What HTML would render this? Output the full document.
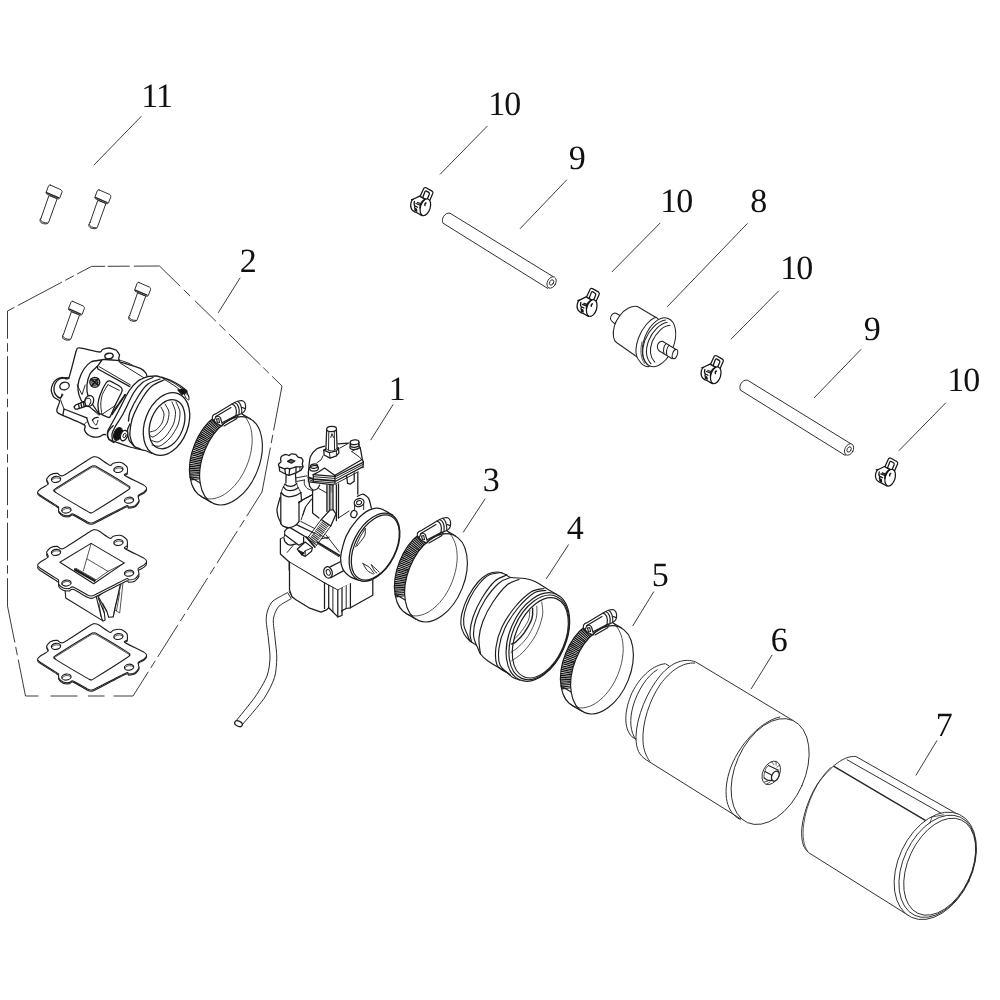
<!DOCTYPE html>
<html><head><meta charset="utf-8"><title>Carburetor exploded view</title>
<style>
html,body{margin:0;padding:0;background:#fff;}
body{width:1000px;height:1000px;overflow:hidden;}
svg{display:block}
svg .p *{vector-effect:non-scaling-stroke}
svg text{text-rendering:geometricPrecision;-webkit-font-smoothing:antialiased;font-family:"Liberation Serif",serif;font-size:34px;fill:#111;stroke:none}
.w{fill:#fff}
.n{fill:none}
.k{fill:#111}
.t{stroke-width:.75}
.h{stroke-width:1.4}
.b .t{stroke-width:.95}
.b .h{stroke-width:1.8}
</style></head><body>
<svg width="1000" height="1000" viewBox="0 0 1000 1000" fill="none" stroke="#262626" stroke-width=".95" stroke-linecap="round" stroke-linejoin="round">
<rect x="0" y="0" width="1000" height="1000" fill="#fff" stroke="none"/>
<!-- 00_labels.svg -->
<g id="labels" style="mix-blend-mode:multiply">
<text x="141.3" y="107.4" letter-spacing="-1">11</text>
<text x="239.7" y="272.4">2</text>
<text x="388.7" y="400.4">1</text>
<text x="482.7" y="491.4">3</text>
<text x="566.7" y="539.4">4</text>
<text x="651.7" y="586.4">5</text>
<text x="770.7" y="651.4">6</text>
<text x="935.7" y="736.4">7</text>
<text x="750.2" y="212.4">8</text>
<text x="568.7" y="169.4">9</text>
<text x="863.7" y="340.4">9</text>
<text x="488.3" y="115.4" letter-spacing="-1">10</text>
<text x="660.3" y="212.4" letter-spacing="-1">10</text>
<text x="780.3" y="279.4" letter-spacing="-1">10</text>
<text x="947.3" y="391.4" letter-spacing="-1">10</text>
</g>
<g id="leaders" stroke-width=".9">
<path d="M141,116.6L94,165"/>
<path d="M240,278L218.4,312.5"/>
<path d="M392.9,404.8L370.9,439.8"/>
<path d="M485,499L463.4,532"/>
<path d="M568.4,544.9L546.5,578.5"/>
<path d="M653.6,592L632.9,625.6"/>
<path d="M772,655.2L751.2,688.8"/>
<path d="M936.8,740.8L916,775.2"/>
<path d="M747.2,223.7L667.5,306.5"/>
<path d="M566.6,180L520.2,228.6"/>
<path d="M860.8,349.6L814.4,397.6"/>
<path d="M487.2,126.2L440.2,174.2"/>
<path d="M660,223.2L612,271.8"/>
<path d="M778.6,291L731.2,339"/>
<path d="M945.6,403L899.2,450.4"/>
</g>
<g id="phantom" stroke-linecap="butt" stroke-width=".9">
<path d="M7.5,311.0L91.5,266.4" stroke-dasharray="7.8 3.8 50.0 3.8 9.7 3.8 16.4"/>
<path d="M91.5,266.4L159.5,266.0" stroke-dasharray="13.6 2.6 22.0 4.2 25.6"/>
<path d="M159.5,266.0L282.0,386.0" stroke-dasharray="29.0 5.0 9.0 6.5 29.5 4.7 8.5 5.0 44.0 4.0 8.0 4.5 13.5"/>
<path d="M282.0,386.0L262.0,492.0" stroke-dasharray="45.2 4.5 8.5 4.5 45.2"/>
<path d="M262.0,492.0L133.0,696.0" stroke-dasharray="28.7 4.5 8.5 4.5 38.0 4.5 8.5 4.5 38.0 4.5 8.5 4.5 38.0 4.5 8.5 4.5 28.7"/>
<path d="M133.0,696.0L25.5,696.0" stroke-dasharray="19.5 9 16.5 10.5 27 12 13"/>
<path d="M25.5,696.0L7.5,606.0" stroke-dasharray="37.1 4.5 8.5 4.5 37.1"/>
<path d="M7.5,606.0L7.5,311.0" stroke-dasharray="27.8 4.5 8.5 4.5 38.0 4.5 8.5 4.5 38.0 4.5 8.5 4.5 38.0 4.5 8.5 4.5 38.0 4.5 8.5 4.5 27.8"/>
</g>
<!-- 10_bolts.svg -->
<g class="p" transform="translate(20.0,160.0) scale(.16)"><path class="w" d="M132,362L181,222L232,242L178,392C172,402 150,402 132,392C122,384 124,372 132,362Z"/>
<path d="M126,372C130,384 150,396 172,394"/>
<path class="w" d="M190,157L256,186C262,190 264,196 262,202L248,238C246,243 240,244 234,242L170,214C164,211 162,206 164,200L178,163C180,157 185,155 190,157Z"/>
<path d="M166,204L240,236" class="h"/>
</g>
<g class="p" transform="translate(68.8,164.8) scale(.16)"><path class="w" d="M132,362L181,222L232,242L178,392C172,402 150,402 132,392C122,384 124,372 132,362Z"/>
<path d="M126,372C130,384 150,396 172,394"/>
<path class="w" d="M190,157L256,186C262,190 264,196 262,202L248,238C246,243 240,244 234,242L170,214C164,211 162,206 164,200L178,163C180,157 185,155 190,157Z"/>
<path d="M166,204L240,236" class="h"/>
</g>
<g class="p" transform="translate(42.4,276.3) scale(.16)"><path class="w" d="M132,362L181,222L232,242L178,392C172,402 150,402 132,392C122,384 124,372 132,362Z"/>
<path d="M126,372C130,384 150,396 172,394"/>
<path class="w" d="M190,157L256,186C262,190 264,196 262,202L248,238C246,243 240,244 234,242L170,214C164,211 162,206 164,200L178,163C180,157 185,155 190,157Z"/>
<path d="M166,204L240,236" class="h"/>
</g>
<g class="p" transform="translate(108.6,257.4) scale(.16)"><path class="w" d="M132,362L181,222L232,242L178,392C172,402 150,402 132,392C122,384 124,372 132,362Z"/>
<path d="M126,372C130,384 150,396 172,394"/>
<path class="w" d="M190,157L256,186C262,190 264,196 262,202L248,238C246,243 240,244 234,242L170,214C164,211 162,206 164,200L178,163C180,157 185,155 190,157Z"/>
<path d="M166,204L240,236" class="h"/>
</g>
<!-- 20_tubes.svg -->
<g class="p" transform="translate(430.0,190.0) scale(.16)"><path class="w" d="M80,205C68,182 92,138 125,145L772,543L737,613Z"/>
<ellipse class="w" cx="760" cy="578" rx="26" ry="38" transform="rotate(28 760 578)"/>
<ellipse cx="760" cy="578" rx="12" ry="18" transform="rotate(28 760 578)"/>
</g>
<g class="p" transform="translate(727.5,357.0) scale(.16)"><path class="w" d="M80,205C68,182 92,138 125,145L772,543L737,613Z"/>
<ellipse class="w" cx="760" cy="578" rx="26" ry="38" transform="rotate(28 760 578)"/>
<ellipse cx="760" cy="578" rx="12" ry="18" transform="rotate(28 760 578)"/>
</g>
<!-- 21_clips.svg -->
<g class="p" stroke="#151515" stroke-width="1.25" transform="translate(400.0,180.0) scale(.05)"><path class="w" d="M400,330L470,178C480,155 500,145 522,156L640,222C660,235 664,250 655,272L590,420Z"/>
<path d="M455,350L498,236C504,220 516,214 530,222L574,248C590,258 592,270 586,286L545,385"/>
<path class="w" d="M392,322L262,386C222,410 200,500 222,560C240,610 290,640 330,650L440,712L560,420Z"/>
<path d="M230,390L262,386M290,430C275,470 280,500 300,520L350,545M320,470L400,500M350,450L410,470M300,520L290,560"/>
<path class="k" d="M300,570L330,580L335,625L300,610Z"/>
<ellipse class="w" cx="507" cy="545" rx="98" ry="172" transform="rotate(17 507 545)"/>
<path d="M398,560C400,480 440,410 500,385"/>
<path d="M520,460C500,470 490,490 500,510" class="h"/>
</g>
<g class="p" stroke="#151515" stroke-width="1.25" transform="translate(566.4,280.8) scale(.05)"><path class="w" d="M400,330L470,178C480,155 500,145 522,156L640,222C660,235 664,250 655,272L590,420Z"/>
<path d="M455,350L498,236C504,220 516,214 530,222L574,248C590,258 592,270 586,286L545,385"/>
<path class="w" d="M392,322L262,386C222,410 200,500 222,560C240,610 290,640 330,650L440,712L560,420Z"/>
<path d="M230,390L262,386M290,430C275,470 280,500 300,520L350,545M320,470L400,500M350,450L410,470M300,520L290,560"/>
<path class="k" d="M300,570L330,580L335,625L300,610Z"/>
<ellipse class="w" cx="507" cy="545" rx="98" ry="172" transform="rotate(17 507 545)"/>
<path d="M398,560C400,480 440,410 500,385"/>
<path d="M520,460C500,470 490,490 500,510" class="h"/>
</g>
<g class="p" stroke="#151515" stroke-width="1.25" transform="translate(690.4,348.0) scale(.05)"><path class="w" d="M400,330L470,178C480,155 500,145 522,156L640,222C660,235 664,250 655,272L590,420Z"/>
<path d="M455,350L498,236C504,220 516,214 530,222L574,248C590,258 592,270 586,286L545,385"/>
<path class="w" d="M392,322L262,386C222,410 200,500 222,560C240,610 290,640 330,650L440,712L560,420Z"/>
<path d="M230,390L262,386M290,430C275,470 280,500 300,520L350,545M320,470L400,500M350,450L410,470M300,520L290,560"/>
<path class="k" d="M300,570L330,580L335,625L300,610Z"/>
<ellipse class="w" cx="507" cy="545" rx="98" ry="172" transform="rotate(17 507 545)"/>
<path d="M398,560C400,480 440,410 500,385"/>
<path d="M520,460C500,470 490,490 500,510" class="h"/>
</g>
<g class="p" stroke="#151515" stroke-width="1.25" transform="translate(864.8,450.4) scale(.05)"><path class="w" d="M400,330L470,178C480,155 500,145 522,156L640,222C660,235 664,250 655,272L590,420Z"/>
<path d="M455,350L498,236C504,220 516,214 530,222L574,248C590,258 592,270 586,286L545,385"/>
<path class="w" d="M392,322L262,386C222,410 200,500 222,560C240,610 290,640 330,650L440,712L560,420Z"/>
<path d="M230,390L262,386M290,430C275,470 280,500 300,520L350,545M320,470L400,500M350,450L410,470M300,520L290,560"/>
<path class="k" d="M300,570L330,580L335,625L300,610Z"/>
<ellipse class="w" cx="507" cy="545" rx="98" ry="172" transform="rotate(17 507 545)"/>
<path d="M398,560C400,480 440,410 500,385"/>
<path d="M520,460C500,470 490,490 500,510" class="h"/>
</g>
<!-- 22_filter.svg -->
<g class="p" stroke-width="1.05" transform="translate(600,290) scale(.1)">
<path class="w" d="M200,255L160,233C130,225 100,255 105,290C108,310 125,320 150,338Z"/>
<path class="w" d="M560,275L375,165C320,155 250,185 200,255C150,320 125,400 135,470C140,500 150,515 165,525L400,690Z"/>
<path class="w" d="M560,272C500,290 420,380 385,480C350,580 350,660 395,710C420,750 450,765 482,768L600,700L700,400Z"/>
<ellipse class="w" cx="590" cy="522" rx="150" ry="255" transform="rotate(21 590 522)"/>
<path d="M655,300C575,312 490,400 450,500C415,600 420,690 478,748"/>
<path d="M672,322C600,335 525,410 487,505C452,600 458,680 510,738"/>
<path d="M700,352C630,355 560,430 522,515C492,600 498,670 548,722"/>
<path class="t" d="M420,520C400,600 405,680 445,735"/>
<path class="w" d="M625,512L752,590L722,688L590,608C575,590 570,560 580,540C590,520 605,510 625,512Z"/>
<path d="M660,535C640,560 630,600 640,635"/>
<path d="M690,552C668,580 660,615 668,652"/>
<ellipse class="w" cx="750" cy="640" rx="24" ry="48" transform="rotate(20 750 640)"/>
</g>
<!-- 30_cyl6.svg -->
<g class="p" transform="translate(610,640) scale(.22)">
<path class="w" d="M250,108C200,112 140,160 100,240C65,320 60,400 100,440L180,490L330,160Z"/>
<path d="M215,135C170,160 125,230 105,300C88,360 90,420 120,455"/>
<path class="w" d="M832,366L390,100C340,80 280,100 230,160C170,230 120,350 118,440C118,500 135,525 165,545L592,812Z"/>
<path d="M385,105C330,100 275,140 230,200C180,270 145,380 150,460C152,500 165,530 180,550"/>
<ellipse class="w" cx="728" cy="598" rx="158" ry="254" transform="rotate(24 728 598)"/>
<path d="M772,350C690,365 578,480 542,600C512,700 528,785 592,816"/>

</g>
<g class="p" transform="translate(750,750) scale(.05)">
<ellipse class="w" cx="425" cy="458" rx="165" ry="250" transform="rotate(27 425 458)"/>
<path d="M370,310L560,400M300,430L430,500L440,612M282,560L345,602L440,612" stroke-width="1.2"/>
<path class="t" d="M370,310C330,340 300,390 300,430C280,470 275,520 283,560M430,232L478,292M520,226L522,300M590,300L545,345M288,640L360,620M330,686L400,640M560,400L585,470"/>
<ellipse class="w" cx="505" cy="522" rx="68" ry="105" transform="rotate(25 505 522)" stroke-width="1.3"/>
</g>
<!-- 31_cyl7.svg -->
<g class="p" transform="translate(780,740) scale(.22)">
<path class="w" d="M812,340L345,75C290,70 230,120 170,200C120,280 90,390 100,450C105,485 115,500 135,515L585,798Z"/>
<path class="t" d="M230,125C170,180 120,290 108,380C100,440 108,480 125,505"/>
<path d="M305,90L745,340"/>
<path class="h" d="M245,120L682,378"/>
<ellipse class="w" cx="706" cy="572" rx="168" ry="258" transform="rotate(25 706 572)"/>
<ellipse cx="716" cy="574" rx="156" ry="246" transform="rotate(25 716 574)"/>
<ellipse cx="726" cy="576" rx="144" ry="234" transform="rotate(25 726 576)"/>
<path class="t" d="M682,378L690,350L745,340"/>
</g>
<!-- 40_clamps.svg -->
<g stroke-width="1.15" stroke="#1e1e1e" transform="translate(0.0,0.0)">
<ellipse class="w" cx="425.8" cy="571.8" rx="28.2" ry="46.2" transform="rotate(22 425.8 571.8)"/>
<path class="w" stroke="none" d="M445.4,530.1L455.6,536.1L416.4,619.5L406.2,613.5 Z"/>
<path d="M445.4,530.1L455.6,536.1M406.2,613.5L416.4,619.5"/>
<clipPath id="c0"><ellipse cx="425.8" cy="571.8" rx="28.2" ry="46.2" transform="rotate(22 425.8 571.8)"/></clipPath>
<g clip-path="url(#c0)"><path d="M400.1,597.0L399.8,594.8L399.6,592.6L399.5,590.4L399.6,588.1L399.7,585.8L399.9,583.4L400.2,581.0L400.6,578.6L401.1,576.2L401.6,573.8L402.3,571.3L403.0,568.9L403.9,566.5L404.8,564.2L405.8,561.8L406.8,559.5L408.0,557.3L409.2,555.1L410.5,552.9L411.8,550.9L413.2,548.9L414.7,546.9L416.2,545.1L417.7,543.4L419.3,541.7L420.9,540.2L422.5,538.7L424.2,537.4L425.9,536.1L427.6,535.0L429.3,534.0L431.1,533.2L432.8,532.4L434.5,531.8L436.2,531.3L437.9,531.0L439.6,530.8L441.2,530.7L442.8,530.7L444.4,530.9" stroke="#111" stroke-width="13" stroke-dasharray="1.25 0.55" stroke-linecap="butt"/></g>
<ellipse class="w" cx="436.0" cy="577.8" rx="28.2" ry="46.2" transform="rotate(22 436.0 577.8)"/>
<path class="t" d="M448.2,532.1L450.0,533.9L451.6,536.0L453.0,538.3L454.2,540.9L455.3,543.6L456.1,546.7L456.7,549.8L457.0,553.2L457.2,556.7L457.1,560.3L456.7,564.0L456.2,567.7L455.4,571.5L454.4,575.2L453.2,579.0L451.8,582.7L450.2,586.3L448.5,589.8L446.5,593.2L444.5,596.4L442.2,599.4L439.9,602.3L437.4,604.9L434.9,607.2L432.3,609.4L429.7,611.2L427.0,612.8L424.3,614.0L421.7,614.9L419.0,615.6L416.4,615.9L413.9,615.9L411.5,615.5L409.1,614.9L406.9,613.9L404.9,612.6L402.9,611.1L401.2,609.2L399.6,607.1L398.2,604.7"/>
<path d="M395.0,594.0L405.2,600.0"/>
<g class="p" transform="translate(410,510) scale(.05)">
<path class="w" d="M150,520C135,470 165,425 210,418L540,222C600,180 680,150 740,150C790,165 815,220 812,290C810,350 770,400 700,425L640,445L380,600L340,660L230,610Z"/>
<path d="M218,470L520,290M350,590L640,440M380,660L640,510"/>
<path d="M215,480C250,450 290,460 310,500L350,640"/>
<path d="M180,560L215,480M230,520L275,510L290,590L250,600Z"/>
<path d="M540,222C600,230 650,320 620,450M600,195C660,215 700,310 680,425M650,165C710,190 745,300 735,410"/>
<path d="M745,290L805,312"/>
</g>
</g>
<g stroke-width="1.15" stroke="#1e1e1e" transform="translate(166.0,92.0)">
<ellipse class="w" cx="425.8" cy="571.8" rx="28.2" ry="46.2" transform="rotate(22 425.8 571.8)"/>
<path class="w" stroke="none" d="M445.4,530.1L455.6,536.1L416.4,619.5L406.2,613.5 Z"/>
<path d="M445.4,530.1L455.6,536.1M406.2,613.5L416.4,619.5"/>
<clipPath id="c2358"><ellipse cx="425.8" cy="571.8" rx="28.2" ry="46.2" transform="rotate(22 425.8 571.8)"/></clipPath>
<g clip-path="url(#c2358)"><path d="M400.1,597.0L399.8,594.8L399.6,592.6L399.5,590.4L399.6,588.1L399.7,585.8L399.9,583.4L400.2,581.0L400.6,578.6L401.1,576.2L401.6,573.8L402.3,571.3L403.0,568.9L403.9,566.5L404.8,564.2L405.8,561.8L406.8,559.5L408.0,557.3L409.2,555.1L410.5,552.9L411.8,550.9L413.2,548.9L414.7,546.9L416.2,545.1L417.7,543.4L419.3,541.7L420.9,540.2L422.5,538.7L424.2,537.4L425.9,536.1L427.6,535.0L429.3,534.0L431.1,533.2L432.8,532.4L434.5,531.8L436.2,531.3L437.9,531.0L439.6,530.8L441.2,530.7L442.8,530.7L444.4,530.9" stroke="#111" stroke-width="13" stroke-dasharray="1.25 0.55" stroke-linecap="butt"/></g>
<ellipse class="w" cx="436.0" cy="577.8" rx="28.2" ry="46.2" transform="rotate(22 436.0 577.8)"/>
<path class="t" d="M448.2,532.1L450.0,533.9L451.6,536.0L453.0,538.3L454.2,540.9L455.3,543.6L456.1,546.7L456.7,549.8L457.0,553.2L457.2,556.7L457.1,560.3L456.7,564.0L456.2,567.7L455.4,571.5L454.4,575.2L453.2,579.0L451.8,582.7L450.2,586.3L448.5,589.8L446.5,593.2L444.5,596.4L442.2,599.4L439.9,602.3L437.4,604.9L434.9,607.2L432.3,609.4L429.7,611.2L427.0,612.8L424.3,614.0L421.7,614.9L419.0,615.6L416.4,615.9L413.9,615.9L411.5,615.5L409.1,614.9L406.9,613.9L404.9,612.6L402.9,611.1L401.2,609.2L399.6,607.1L398.2,604.7"/>
<path d="M395.0,594.0L405.2,600.0"/>
<g class="p" transform="translate(410,510) scale(.05)">
<path class="w" d="M150,520C135,470 165,425 210,418L540,222C600,180 680,150 740,150C790,165 815,220 812,290C810,350 770,400 700,425L640,445L380,600L340,660L230,610Z"/>
<path d="M218,470L520,290M350,590L640,440M380,660L640,510"/>
<path d="M215,480C250,450 290,460 310,500L350,640"/>
<path d="M180,560L215,480M230,520L275,510L290,590L250,600Z"/>
<path d="M540,222C600,230 650,320 620,450M600,195C660,215 700,310 680,425M650,165C710,190 745,300 735,410"/>
<path d="M745,290L805,312"/>
</g>
</g>
<g stroke-width="1.15" stroke="#1e1e1e" transform="translate(-205.0,-117.0)">
<ellipse class="w" cx="425.8" cy="571.8" rx="28.2" ry="46.2" transform="rotate(22 425.8 571.8)"/>
<path class="w" stroke="none" d="M445.4,530.1L455.6,536.1L416.4,619.5L406.2,613.5 Z"/>
<path d="M445.4,530.1L455.6,536.1M406.2,613.5L416.4,619.5"/>
<clipPath id="c2956"><ellipse cx="425.8" cy="571.8" rx="28.2" ry="46.2" transform="rotate(22 425.8 571.8)"/></clipPath>
<g clip-path="url(#c2956)"><path d="M400.1,597.0L399.8,594.8L399.6,592.6L399.5,590.4L399.6,588.1L399.7,585.8L399.9,583.4L400.2,581.0L400.6,578.6L401.1,576.2L401.6,573.8L402.3,571.3L403.0,568.9L403.9,566.5L404.8,564.2L405.8,561.8L406.8,559.5L408.0,557.3L409.2,555.1L410.5,552.9L411.8,550.9L413.2,548.9L414.7,546.9L416.2,545.1L417.7,543.4L419.3,541.7L420.9,540.2L422.5,538.7L424.2,537.4L425.9,536.1L427.6,535.0L429.3,534.0L431.1,533.2L432.8,532.4L434.5,531.8L436.2,531.3L437.9,531.0L439.6,530.8L441.2,530.7L442.8,530.7L444.4,530.9" stroke="#111" stroke-width="13" stroke-dasharray="1.25 0.55" stroke-linecap="butt"/></g>
<ellipse class="w" cx="436.0" cy="577.8" rx="28.2" ry="46.2" transform="rotate(22 436.0 577.8)"/>
<path class="t" d="M448.2,532.1L450.0,533.9L451.6,536.0L453.0,538.3L454.2,540.9L455.3,543.6L456.1,546.7L456.7,549.8L457.0,553.2L457.2,556.7L457.1,560.3L456.7,564.0L456.2,567.7L455.4,571.5L454.4,575.2L453.2,579.0L451.8,582.7L450.2,586.3L448.5,589.8L446.5,593.2L444.5,596.4L442.2,599.4L439.9,602.3L437.4,604.9L434.9,607.2L432.3,609.4L429.7,611.2L427.0,612.8L424.3,614.0L421.7,614.9L419.0,615.6L416.4,615.9L413.9,615.9L411.5,615.5L409.1,614.9L406.9,613.9L404.9,612.6L402.9,611.1L401.2,609.2L399.6,607.1L398.2,604.7"/>
<path d="M395.0,594.0L405.2,600.0"/>
<g class="p" transform="translate(410,510) scale(.05)">
<path class="w" d="M150,520C135,470 165,425 210,418L540,222C600,180 680,150 740,150C790,165 815,220 812,290C810,350 770,400 700,425L640,445L380,600L340,660L230,610Z"/>
<path d="M218,470L520,290M350,590L640,440M380,660L640,510"/>
<path d="M215,480C250,450 290,460 310,500L350,640"/>
<path d="M180,560L215,480M230,520L275,510L290,590L250,600Z"/>
<path d="M540,222C600,230 650,320 620,450M600,195C660,215 700,310 680,425M650,165C710,190 745,300 735,410"/>
<path d="M745,290L805,312"/>
</g>
</g>
<!-- 41_boot.svg -->
<g id="boot" stroke-width="1.15" stroke="#1e1e1e">
<path class="w" stroke="none" d="M506.0,574.5C504.7,574.1 501.0,572.1 498.0,572.0C495.0,571.9 491.3,572.3 488.0,574.0C484.7,575.7 481.3,578.2 478.0,582.0C474.7,585.8 470.7,591.8 468.0,597.0C465.3,602.2 463.2,608.3 462.0,613.0C460.8,617.7 460.7,621.5 461.0,625.0C461.3,628.5 462.5,631.3 464.0,634.0C465.5,636.7 467.9,639.1 470.0,641.0C472.1,642.9 474.8,643.3 476.5,645.5C478.2,647.7 478.6,651.4 480.5,654.0C482.4,656.6 483.8,658.0 488.0,661.0C492.2,664.0 501.8,669.2 506.0,672.0C510.2,674.8 510.7,676.2 513.0,677.6C515.3,679.0 518.8,679.7 520.0,680.1L556.4,594.3L548.0,589.4L528.4,579.6L525.0,578.5L511.0,577.5Z"/>
<path d="M506.0,574.5C504.7,574.1 501.0,572.1 498.0,572.0C495.0,571.9 491.3,572.3 488.0,574.0C484.7,575.7 481.3,578.2 478.0,582.0C474.7,585.8 470.7,591.8 468.0,597.0C465.3,602.2 463.2,608.3 462.0,613.0C460.8,617.7 460.7,621.5 461.0,625.0C461.3,628.5 462.5,631.3 464.0,634.0C465.5,636.7 467.9,639.1 470.0,641.0C472.1,642.9 474.8,643.3 476.5,645.5C478.2,647.7 478.6,651.4 480.5,654.0C482.4,656.6 483.8,658.0 488.0,661.0C492.2,664.0 501.8,669.2 506.0,672.0C510.2,674.8 510.7,676.2 513.0,677.6C515.3,679.0 518.8,679.7 520.0,680.1"/>
<path d="M506.0,574.5C506.8,575.0 507.8,576.8 511.0,577.5C514.2,578.2 521.0,577.8 525.0,578.5C529.0,579.2 531.2,579.7 535.0,581.5C538.8,583.3 544.4,587.3 548.0,589.4C551.6,591.5 555.0,593.5 556.4,594.3"/>
<path d="M502.0,572.5C499.8,572.9 492.8,573.1 489.0,575.0C485.2,576.9 482.2,580.2 479.0,584.0C475.8,587.8 472.4,593.2 470.0,598.0C467.6,602.8 465.5,608.5 464.5,613.0C463.5,617.5 463.3,621.3 463.8,625.0C464.3,628.7 466.5,632.3 467.5,635.0C468.5,637.7 469.6,640.0 470.0,641.0"/>
<path d="M507.0,575.0C505.0,576.0 499.2,577.2 495.0,581.0C490.8,584.8 485.7,592.0 482.0,598.0C478.3,604.0 475.0,611.2 473.0,617.0C471.0,622.8 470.2,628.9 470.0,633.0C469.8,637.1 471.2,640.1 471.5,641.5"/>
<path d="M510.5,577.5C508.6,578.4 503.2,579.2 499.0,583.0C494.8,586.8 488.8,594.0 485.0,600.0C481.2,606.0 477.9,613.2 476.0,619.0C474.1,624.8 473.4,630.6 473.5,635.0C473.6,639.4 476.0,643.8 476.5,645.5"/>
<path d="M519.0,579.5C517.0,580.4 511.3,581.2 507.0,585.0C502.7,588.8 497.0,596.0 493.0,602.0C489.0,608.0 485.3,615.0 483.0,621.0C480.7,627.0 479.4,632.5 479.0,638.0C478.6,643.5 480.2,651.3 480.5,654.0"/>
<path d="M544.0,588.5C541.8,589.1 535.8,588.9 531.0,592.0C526.2,595.1 519.8,601.2 515.0,607.0C510.2,612.8 505.2,620.3 502.0,627.0C498.8,633.7 496.8,640.7 496.0,647.0C495.2,653.3 495.3,660.8 497.0,665.0C498.7,669.2 504.5,670.8 506.0,672.0"/>
<path d="M546.0,590.5C544.0,590.9 538.7,590.1 534.0,593.0C529.3,595.9 522.8,602.2 518.0,608.0C513.2,613.8 508.2,621.3 505.0,628.0C501.8,634.7 499.8,641.8 499.0,648.0C498.2,654.2 498.1,660.5 500.0,665.0C501.9,669.5 508.5,673.2 510.2,674.8"/>
<ellipse class="w" cx="537.9" cy="637.0" rx="28.3" ry="46.5" transform="rotate(23 537.9 637.0)"/>
<ellipse cx="539.0" cy="637.4" rx="26.6" ry="44.5" transform="rotate(23 539.0 637.4)"/>
<ellipse cx="540.3" cy="637.8" rx="24.6" ry="42.3" transform="rotate(23 540.3 637.8)"/>
<path class="t" d="M541.7,602.0C541.8,604.3 543.5,610.4 542.4,616.0C541.3,621.6 538.7,629.5 535.4,635.6C532.1,641.7 526.8,648.2 522.8,652.4C518.8,656.6 513.5,659.4 511.6,660.8"/>
<path class="t" d="M536.8,606.2C536.7,608.3 537.5,613.9 536.1,618.8C534.7,623.7 531.3,630.9 528.4,635.6C525.5,640.3 521.5,644.0 518.6,646.8C515.7,649.6 512.2,651.5 510.9,652.4"/>
<path class="h" d="M532.6,608.3C532.5,610.0 533.3,614.7 531.9,618.8C530.5,622.9 526.9,628.9 524.2,632.8C521.5,636.6 517.9,640.0 515.8,641.9C513.7,643.8 512.3,643.6 511.6,644.0"/>
<path class="t" d="M529.8,610.4C529.6,612.0 529.8,616.7 528.4,620.2C527.0,623.7 523.8,628.1 521.4,631.4C519.0,634.7 515.0,638.4 513.7,639.8"/>
</g>
<!-- 50_gaskets.svg -->
<g class="p" stroke-width="1.1" stroke="#1e1e1e" transform="translate(30.0,450.0) scale(.13)">
<path class="w" d="M500.0,61.0C507.2,61.0 516.6,63.3 530.0,71.0C543.4,78.7 602.2,122.3 615.0,127.0C627.8,131.7 630.1,113.6 640.0,111.0C649.9,108.4 687.8,102.0 700.0,105.0C712.2,108.0 739.4,127.8 745.0,137.0C750.6,146.2 749.8,176.1 748.0,184.0C746.2,191.9 714.8,193.7 730.0,205.0C745.2,216.3 858.5,269.3 878.0,281.0C897.5,292.7 897.0,299.2 897.0,305.0C897.0,310.8 885.6,324.7 878.0,331.0C870.4,337.3 836.7,350.8 832.0,359.0C827.3,367.2 841.1,391.7 838.0,401.0C834.9,410.3 814.3,433.6 805.0,439.0C795.7,444.4 766.2,446.8 758.0,447.0C749.8,447.2 764.5,427.9 735.0,441.0C705.5,454.1 535.9,543.8 505.0,559.0C474.1,574.2 477.8,570.8 470.0,571.0C462.2,571.2 454.1,569.2 438.0,561.0C421.9,552.8 348.1,506.5 332.0,501.0C315.9,495.5 309.0,513.1 300.0,514.0C291.0,514.9 264.1,512.9 255.0,509.0C245.9,505.1 226.1,488.0 222.0,481.0C217.9,474.0 222.0,454.1 220.0,449.0C218.0,443.9 221.6,447.7 205.0,437.0C188.4,426.3 95.2,369.0 78.0,357.0C60.9,345.0 58.0,339.4 58.0,334.0C58.0,328.6 68.4,318.4 78.0,311.0C87.6,303.6 134.2,280.0 140.0,271.0C145.8,262.0 125.9,242.4 128.0,234.0C130.1,225.6 148.4,204.2 158.0,199.0C167.6,193.8 198.3,188.3 210.0,189.0C221.7,189.7 227.9,218.8 258.0,205.0C288.1,191.2 439.8,87.8 468.0,71.0C496.2,54.2 492.8,61.0 500.0,61.0Z"/>
<path class="w" d="M500.0,52.0C507.2,52.0 516.6,54.3 530.0,62.0C543.4,69.7 602.2,113.3 615.0,118.0C627.8,122.7 630.1,104.6 640.0,102.0C649.9,99.4 687.8,93.0 700.0,96.0C712.2,99.0 739.4,118.8 745.0,128.0C750.6,137.2 749.8,167.1 748.0,175.0C746.2,182.9 714.8,184.7 730.0,196.0C745.2,207.3 858.5,260.3 878.0,272.0C897.5,283.7 897.0,290.2 897.0,296.0C897.0,301.8 885.6,315.7 878.0,322.0C870.4,328.3 836.7,341.8 832.0,350.0C827.3,358.2 841.1,382.7 838.0,392.0C834.9,401.3 814.3,424.6 805.0,430.0C795.7,435.4 766.2,437.8 758.0,438.0C749.8,438.2 764.5,418.9 735.0,432.0C705.5,445.1 535.9,534.8 505.0,550.0C474.1,565.2 477.8,561.8 470.0,562.0C462.2,562.2 454.1,560.2 438.0,552.0C421.9,543.8 348.1,497.5 332.0,492.0C315.9,486.5 309.0,504.1 300.0,505.0C291.0,505.9 264.1,503.9 255.0,500.0C245.9,496.1 226.1,479.0 222.0,472.0C217.9,465.0 222.0,445.1 220.0,440.0C218.0,434.9 221.6,438.7 205.0,428.0C188.4,417.3 95.2,360.0 78.0,348.0C60.9,336.0 58.0,330.4 58.0,325.0C58.0,319.6 68.4,309.4 78.0,302.0C87.6,294.6 134.2,271.0 140.0,262.0C145.8,253.0 125.9,233.4 128.0,225.0C130.1,216.6 148.4,195.2 158.0,190.0C167.6,184.8 198.3,179.3 210.0,180.0C221.7,180.7 227.9,209.8 258.0,196.0C288.1,182.2 439.8,78.8 468.0,62.0C496.2,45.2 492.8,52.0 500.0,52.0Z"/>
<path class="w" d="M490.0,124.0C496.8,124.0 489.4,114.7 520.0,132.0C550.6,149.3 723.5,253.3 752.0,272.0C780.5,290.7 764.5,287.3 764.0,292.0C763.5,296.7 779.7,290.8 748.0,312.0C716.3,333.2 524.7,454.2 492.0,474.0C459.3,493.8 473.4,482.0 468.0,482.0C462.6,482.0 477.3,492.0 446.0,474.0C414.7,456.0 230.1,347.1 200.0,328.0C169.9,308.9 187.5,314.2 188.0,310.0C188.5,305.8 172.0,312.8 204.0,292.0C236.0,271.2 428.6,151.6 462.0,132.0C495.4,112.4 483.2,124.0 490.0,124.0Z"/>
<path class="t" d="M200.0,328.0C199.1,326.6 191.5,319.0 192.0,316.0C192.5,313.0 172.5,322.3 204.0,302.0C235.5,281.7 428.6,161.6 462.0,142.0C495.4,122.4 483.2,134.0 490.0,134.0C496.8,134.0 489.4,124.7 520.0,142.0C550.6,159.3 723.8,264.0 752.0,282.0C780.2,300.0 760.8,294.4 762.0,296.0"/>
<ellipse class="w" cx="200" cy="226" rx="36" ry="23" transform="rotate(-8 200 226)"/>
<path class="t" d="M167.0,232.0C170.8,229.3 181.2,218.7 190.0,216.0C198.8,213.3 212.5,214.0 220.0,216.0C227.5,218.0 232.5,226.0 235.0,228.0"/>
<ellipse class="w" cx="680" cy="150" rx="36" ry="23" transform="rotate(-8 680 150)"/>
<path class="t" d="M647.0,156.0C650.8,153.3 661.2,142.7 670.0,140.0C678.8,137.3 692.5,138.0 700.0,140.0C707.5,142.0 712.5,150.0 715.0,152.0"/>
<ellipse class="w" cx="762" cy="386" rx="36" ry="23" transform="rotate(-8 762 386)"/>
<path class="t" d="M729.0,392.0C732.8,389.3 743.2,378.7 752.0,376.0C760.8,373.3 774.5,374.0 782.0,376.0C789.5,378.0 794.5,386.0 797.0,388.0"/>
<ellipse class="w" cx="280" cy="462" rx="36" ry="23" transform="rotate(-8 280 462)"/>
<path class="t" d="M247.0,468.0C250.8,465.3 261.2,454.7 270.0,452.0C278.8,449.3 292.5,450.0 300.0,452.0C307.5,454.0 312.5,462.0 315.0,464.0"/>
</g>
<g class="p" stroke-width="1.1" stroke="#1e1e1e" transform="translate(30.0,617.0) scale(.13)">
<path class="w" d="M500.0,61.0C507.2,61.0 516.6,63.3 530.0,71.0C543.4,78.7 602.2,122.3 615.0,127.0C627.8,131.7 630.1,113.6 640.0,111.0C649.9,108.4 687.8,102.0 700.0,105.0C712.2,108.0 739.4,127.8 745.0,137.0C750.6,146.2 749.8,176.1 748.0,184.0C746.2,191.9 714.8,193.7 730.0,205.0C745.2,216.3 858.5,269.3 878.0,281.0C897.5,292.7 897.0,299.2 897.0,305.0C897.0,310.8 885.6,324.7 878.0,331.0C870.4,337.3 836.7,350.8 832.0,359.0C827.3,367.2 841.1,391.7 838.0,401.0C834.9,410.3 814.3,433.6 805.0,439.0C795.7,444.4 766.2,446.8 758.0,447.0C749.8,447.2 764.5,427.9 735.0,441.0C705.5,454.1 535.9,543.8 505.0,559.0C474.1,574.2 477.8,570.8 470.0,571.0C462.2,571.2 454.1,569.2 438.0,561.0C421.9,552.8 348.1,506.5 332.0,501.0C315.9,495.5 309.0,513.1 300.0,514.0C291.0,514.9 264.1,512.9 255.0,509.0C245.9,505.1 226.1,488.0 222.0,481.0C217.9,474.0 222.0,454.1 220.0,449.0C218.0,443.9 221.6,447.7 205.0,437.0C188.4,426.3 95.2,369.0 78.0,357.0C60.9,345.0 58.0,339.4 58.0,334.0C58.0,328.6 68.4,318.4 78.0,311.0C87.6,303.6 134.2,280.0 140.0,271.0C145.8,262.0 125.9,242.4 128.0,234.0C130.1,225.6 148.4,204.2 158.0,199.0C167.6,193.8 198.3,188.3 210.0,189.0C221.7,189.7 227.9,218.8 258.0,205.0C288.1,191.2 439.8,87.8 468.0,71.0C496.2,54.2 492.8,61.0 500.0,61.0Z"/>
<path class="w" d="M500.0,52.0C507.2,52.0 516.6,54.3 530.0,62.0C543.4,69.7 602.2,113.3 615.0,118.0C627.8,122.7 630.1,104.6 640.0,102.0C649.9,99.4 687.8,93.0 700.0,96.0C712.2,99.0 739.4,118.8 745.0,128.0C750.6,137.2 749.8,167.1 748.0,175.0C746.2,182.9 714.8,184.7 730.0,196.0C745.2,207.3 858.5,260.3 878.0,272.0C897.5,283.7 897.0,290.2 897.0,296.0C897.0,301.8 885.6,315.7 878.0,322.0C870.4,328.3 836.7,341.8 832.0,350.0C827.3,358.2 841.1,382.7 838.0,392.0C834.9,401.3 814.3,424.6 805.0,430.0C795.7,435.4 766.2,437.8 758.0,438.0C749.8,438.2 764.5,418.9 735.0,432.0C705.5,445.1 535.9,534.8 505.0,550.0C474.1,565.2 477.8,561.8 470.0,562.0C462.2,562.2 454.1,560.2 438.0,552.0C421.9,543.8 348.1,497.5 332.0,492.0C315.9,486.5 309.0,504.1 300.0,505.0C291.0,505.9 264.1,503.9 255.0,500.0C245.9,496.1 226.1,479.0 222.0,472.0C217.9,465.0 222.0,445.1 220.0,440.0C218.0,434.9 221.6,438.7 205.0,428.0C188.4,417.3 95.2,360.0 78.0,348.0C60.9,336.0 58.0,330.4 58.0,325.0C58.0,319.6 68.4,309.4 78.0,302.0C87.6,294.6 134.2,271.0 140.0,262.0C145.8,253.0 125.9,233.4 128.0,225.0C130.1,216.6 148.4,195.2 158.0,190.0C167.6,184.8 198.3,179.3 210.0,180.0C221.7,180.7 227.9,209.8 258.0,196.0C288.1,182.2 439.8,78.8 468.0,62.0C496.2,45.2 492.8,52.0 500.0,52.0Z"/>
<path class="w" d="M490.0,124.0C496.8,124.0 489.4,114.7 520.0,132.0C550.6,149.3 723.5,253.3 752.0,272.0C780.5,290.7 764.5,287.3 764.0,292.0C763.5,296.7 779.7,290.8 748.0,312.0C716.3,333.2 524.7,454.2 492.0,474.0C459.3,493.8 473.4,482.0 468.0,482.0C462.6,482.0 477.3,492.0 446.0,474.0C414.7,456.0 230.1,347.1 200.0,328.0C169.9,308.9 187.5,314.2 188.0,310.0C188.5,305.8 172.0,312.8 204.0,292.0C236.0,271.2 428.6,151.6 462.0,132.0C495.4,112.4 483.2,124.0 490.0,124.0Z"/>
<path class="t" d="M200.0,328.0C199.1,326.6 191.5,319.0 192.0,316.0C192.5,313.0 172.5,322.3 204.0,302.0C235.5,281.7 428.6,161.6 462.0,142.0C495.4,122.4 483.2,134.0 490.0,134.0C496.8,134.0 489.4,124.7 520.0,142.0C550.6,159.3 723.8,264.0 752.0,282.0C780.2,300.0 760.8,294.4 762.0,296.0"/>
<ellipse class="w" cx="200" cy="226" rx="36" ry="23" transform="rotate(-8 200 226)"/>
<path class="t" d="M167.0,232.0C170.8,229.3 181.2,218.7 190.0,216.0C198.8,213.3 212.5,214.0 220.0,216.0C227.5,218.0 232.5,226.0 235.0,228.0"/>
<ellipse class="w" cx="680" cy="150" rx="36" ry="23" transform="rotate(-8 680 150)"/>
<path class="t" d="M647.0,156.0C650.8,153.3 661.2,142.7 670.0,140.0C678.8,137.3 692.5,138.0 700.0,140.0C707.5,142.0 712.5,150.0 715.0,152.0"/>
<ellipse class="w" cx="762" cy="386" rx="36" ry="23" transform="rotate(-8 762 386)"/>
<path class="t" d="M729.0,392.0C732.8,389.3 743.2,378.7 752.0,376.0C760.8,373.3 774.5,374.0 782.0,376.0C789.5,378.0 794.5,386.0 797.0,388.0"/>
<ellipse class="w" cx="280" cy="462" rx="36" ry="23" transform="rotate(-8 280 462)"/>
<path class="t" d="M247.0,468.0C250.8,465.3 261.2,454.7 270.0,452.0C278.8,449.3 292.5,450.0 300.0,452.0C307.5,454.0 312.5,462.0 315.0,464.0"/>
</g>
<!-- 51_reed.svg -->
<g class="p" stroke-width="1.1" stroke="#1e1e1e" transform="translate(30,520) scale(.13)">
<path class="w" d="M268,520L275,600L555,772L560,700L505,560Z"/>
<path class="w" d="M505,570L548,745L560,778L578,770L572,715L525,600"/>
<path class="w" d="M525,590L592,705L605,748L640,745L700,470L600,520Z"/>
<path class="t" d="M592,705L560,640M640,745L650,690L665,700L690,560"/>
<path class="t" d="M720,440L690,715L665,700M705,480L650,690"/>
<path class="t" d="M548,745L530,640M572,715L560,660"/>
<path class="w" d="M500.0,93.0C507.2,93.0 516.6,95.3 530.0,103.0C543.4,110.7 602.2,154.3 615.0,159.0C627.8,163.7 630.1,145.6 640.0,143.0C649.9,140.4 687.8,134.0 700.0,137.0C712.2,140.0 739.4,159.8 745.0,169.0C750.6,178.2 749.8,208.1 748.0,216.0C746.2,223.9 714.8,225.7 730.0,237.0C745.2,248.3 858.5,301.3 878.0,313.0C897.5,324.7 897.0,331.2 897.0,337.0C897.0,342.8 885.6,356.7 878.0,363.0C870.4,369.3 836.7,382.8 832.0,391.0C827.3,399.2 841.1,423.7 838.0,433.0C834.9,442.3 814.3,465.6 805.0,471.0C795.7,476.4 766.2,478.8 758.0,479.0C749.8,479.2 764.5,459.9 735.0,473.0C705.5,486.1 535.9,575.8 505.0,591.0C474.1,606.2 477.8,602.8 470.0,603.0C462.2,603.2 454.1,601.2 438.0,593.0C421.9,584.8 348.1,538.5 332.0,533.0C315.9,527.5 309.0,545.1 300.0,546.0C291.0,546.9 264.1,544.9 255.0,541.0C245.9,537.1 226.1,520.0 222.0,513.0C217.9,506.0 222.0,486.1 220.0,481.0C218.0,475.9 221.6,479.7 205.0,469.0C188.4,458.3 95.2,401.0 78.0,389.0C60.9,377.0 58.0,371.4 58.0,366.0C58.0,360.6 68.4,350.4 78.0,343.0C87.6,335.6 134.2,312.0 140.0,303.0C145.8,294.0 125.9,274.4 128.0,266.0C130.1,257.6 148.4,236.2 158.0,231.0C167.6,225.8 198.3,220.3 210.0,221.0C221.7,221.7 227.9,250.8 258.0,237.0C288.1,223.2 439.8,119.8 468.0,103.0C496.2,86.2 492.8,93.0 500.0,93.0Z"/>
<path class="w" d="M500.0,75.0C507.2,75.0 516.6,77.3 530.0,85.0C543.4,92.7 602.2,136.3 615.0,141.0C627.8,145.7 630.1,127.6 640.0,125.0C649.9,122.4 687.8,116.0 700.0,119.0C712.2,122.0 739.4,141.8 745.0,151.0C750.6,160.2 749.8,190.1 748.0,198.0C746.2,205.9 714.8,207.7 730.0,219.0C745.2,230.3 858.5,283.3 878.0,295.0C897.5,306.7 897.0,313.2 897.0,319.0C897.0,324.8 885.6,338.7 878.0,345.0C870.4,351.3 836.7,364.8 832.0,373.0C827.3,381.2 841.1,405.7 838.0,415.0C834.9,424.3 814.3,447.6 805.0,453.0C795.7,458.4 766.2,460.8 758.0,461.0C749.8,461.2 764.5,441.9 735.0,455.0C705.5,468.1 535.9,557.8 505.0,573.0C474.1,588.2 477.8,584.8 470.0,585.0C462.2,585.2 454.1,583.2 438.0,575.0C421.9,566.8 348.1,520.5 332.0,515.0C315.9,509.5 309.0,527.1 300.0,528.0C291.0,528.9 264.1,526.9 255.0,523.0C245.9,519.1 226.1,502.0 222.0,495.0C217.9,488.0 222.0,468.1 220.0,463.0C218.0,457.9 221.6,461.7 205.0,451.0C188.4,440.3 95.2,383.0 78.0,371.0C60.9,359.0 58.0,353.4 58.0,348.0C58.0,342.6 68.4,332.4 78.0,325.0C87.6,317.6 134.2,294.0 140.0,285.0C145.8,276.0 125.9,256.4 128.0,248.0C130.1,239.6 148.4,218.2 158.0,213.0C167.6,207.8 198.3,202.3 210.0,203.0C221.7,203.7 227.9,232.8 258.0,219.0C288.1,205.2 439.8,101.8 468.0,85.0C496.2,68.2 492.8,75.0 500.0,75.0Z"/>
<path class="w" d="M470,180L725,330L490,490L230,325Z"/>
<path class="t" d="M470,180L410,392M440,300L600,395M600,395L725,332M600,395L495,470"/>
<path class="k" d="M345,374L500,464L497,474L342,384Z"/>
<path class="t" d="M355,372L505,458"/>
<ellipse class="w" cx="200" cy="249" rx="36" ry="23" transform="rotate(-8 200 249)"/>
<path class="t" d="M167.0,255.0C170.8,252.3 181.2,241.7 190.0,239.0C198.8,236.3 212.5,237.0 220.0,239.0C227.5,241.0 232.5,249.0 235.0,251.0"/>
<ellipse class="w" cx="680" cy="173" rx="36" ry="23" transform="rotate(-8 680 173)"/>
<path class="t" d="M647.0,179.0C650.8,176.3 661.2,165.7 670.0,163.0C678.8,160.3 692.5,161.0 700.0,163.0C707.5,165.0 712.5,173.0 715.0,175.0"/>
<ellipse class="w" cx="762" cy="409" rx="36" ry="23" transform="rotate(-8 762 409)"/>
<path class="t" d="M729.0,415.0C732.8,412.3 743.2,401.7 752.0,399.0C760.8,396.3 774.5,397.0 782.0,399.0C789.5,401.0 794.5,409.0 797.0,411.0"/>
<ellipse class="w" cx="280" cy="485" rx="36" ry="23" transform="rotate(-8 280 485)"/>
<path class="t" d="M247.0,491.0C250.8,488.3 261.2,477.7 270.0,475.0C278.8,472.3 292.5,473.0 300.0,475.0C307.5,477.0 312.5,485.0 315.0,487.0"/>
</g>
<!-- 52_manifold.svg -->
<g class="p b" stroke="#1c1c1c" stroke-width="1.3" transform="translate(45,340) scale(.1)">
<path class="w" d="M345.0,78.0C368.3,79.0 522.0,118.3 545.0,120.0C568.0,121.7 565.5,99.0 575.0,95.0C584.5,91.0 626.5,79.5 640.0,80.0C653.5,80.5 699.5,93.0 710.0,100.0C720.5,107.0 741.8,140.0 745.0,150.0C748.2,160.0 726.5,185.0 742.0,200.0C757.5,215.0 904.2,230.0 900.0,300.0C895.8,370.0 731.8,835.4 700.0,900.0C668.2,964.6 597.4,939.4 582.0,946.0C566.6,952.6 556.0,963.6 546.0,966.0C536.0,968.4 494.0,972.0 482.0,970.0C470.0,968.0 434.8,953.2 426.0,946.0C417.2,938.8 397.2,907.6 394.0,898.0C390.8,888.4 415.6,864.4 394.0,850.0C372.4,835.6 204.4,766.0 178.0,754.0C151.6,742.0 136.0,735.6 130.0,730.0C124.0,724.4 116.4,710.0 118.0,698.0C119.6,686.0 149.0,622.6 146.0,610.0C143.0,597.4 96.4,582.5 88.0,572.0C79.6,561.5 63.0,518.2 62.0,505.0C61.0,491.8 72.7,451.0 78.0,440.0C83.3,429.0 105.3,401.5 115.0,395.0C124.7,388.5 162.7,376.5 175.0,375.0C187.3,373.5 224.3,406.5 238.0,380.0C251.7,353.5 301.3,140.2 312.0,110.0C322.7,79.8 321.7,77.0 345.0,78.0Z"/>
<path d="M240.0,380.0C234.7,379.7 213.3,376.4 200.0,378.0C186.7,379.6 153.3,383.7 140.0,392.0C126.7,400.3 106.7,425.6 100.0,440.0C93.3,454.4 89.3,486.0 90.0,500.0C90.7,514.0 97.0,534.3 105.0,545.0C113.0,555.7 140.3,579.6 150.0,580.0C159.7,580.4 174.3,552.3 178.0,548.0"/>
<path d="M178.0,754.0L190.0,690.0L418.0,778.0"/>
<path class="t" d="M170.0,538.0L154.0,594.0L190.0,690.0"/>
<path d="M418.0,778.0C419.1,782.3 421.7,798.3 426.0,810.0C430.3,821.7 440.4,855.9 450.0,866.0C459.6,876.1 487.3,883.9 498.0,886.0C508.7,888.1 525.7,882.5 530.0,882.0"/>
<path class="t" d="M426.0,810.0C422.8,813.2 406.3,828.7 402.0,834.0C397.7,839.3 395.1,847.9 394.0,850.0"/>
<ellipse class="w" cx="195" cy="460" rx="48" ry="38" transform="rotate(-15 195 460)"/>
<ellipse class="w" cx="640" cy="160" rx="42" ry="28" transform="rotate(-10 640 160)"/>
<path d="M474.0,802.0C477.2,798.8 489.5,781.7 498.0,778.0C506.5,774.3 529.5,772.9 538.0,774.0C546.5,775.1 558.8,784.4 562.0,786.0"/>
<path class="t" d="M474.0,802.0C477.2,807.3 492.7,835.6 498.0,842.0C503.3,848.4 509.7,855.3 514.0,850.0C518.3,844.7 527.9,808.4 530.0,802.0"/>
<path class="w" stroke="none" d="M560.0,200.0C531.5,201.5 477.0,211.0 460.0,220.0C443.0,229.0 402.0,272.0 390.0,290.0C378.0,308.0 346.0,379.0 340.0,400.0C334.0,421.0 328.0,480.0 330.0,500.0C332.0,520.0 351.0,582.0 360.0,600.0C369.0,618.0 404.0,666.0 420.0,680.0C436.0,694.0 497.0,708.0 520.0,740.0C543.0,772.0 602.0,964.0 650.0,1000.0C698.0,1036.0 935.0,1130.0 1000.0,1100.0C1065.0,1070.0 1270.0,770.0 1300.0,700.0C1330.0,630.0 1330.0,440.0 1300.0,400.0C1270.0,360.0 1055.5,319.5 1000.0,300.0C944.5,280.5 789.0,215.0 745.0,205.0C701.0,195.0 588.5,198.5 560.0,200.0Z"/>
<path d="M745.0,205.0C725.7,203.7 624.7,195.7 600.0,195.0C575.3,194.3 578.7,196.7 560.0,200.0C541.3,203.3 482.7,208.0 460.0,220.0C437.3,232.0 406.0,266.0 390.0,290.0C374.0,314.0 348.0,372.0 340.0,400.0C332.0,428.0 327.3,473.3 330.0,500.0C332.7,526.7 350.7,580.0 360.0,600.0C369.3,620.0 394.7,643.3 400.0,650.0"/>
<path d="M520.0,265.0C510.7,275.0 463.3,315.3 450.0,340.0C436.7,364.7 422.7,420.7 420.0,450.0C417.3,479.3 422.0,533.3 430.0,560.0C438.0,586.7 465.3,626.0 480.0,650.0C494.7,674.0 532.0,728.0 540.0,740.0"/>
<path d="M568.0,202.5L522.5,265.5L529.5,290.0L848.0,466.4"/>
<path class="t" d="M540.0,265.5L855.0,449.6"/>
<path d="M743.0,216.5C771.0,225.4 917.5,267.6 953.0,283.0C988.5,298.4 999.9,320.1 1009.0,332.0C1018.1,343.9 1019.9,367.2 1021.6,372.6"/>
<path class="t" d="M750.0,228.4L995.0,382.4"/>
<circle cx="498" cy="423" r="50" fill="#b5b5b5"/>
<path class="h" d="M462,392L534,452M468,458L528,388"/>
<circle cx="498" cy="423" r="30" class="t"/>
<path d="M610.0,430.0C619.1,416.7 631.0,405.5 645.0,409.0C659.0,412.5 737.4,456.6 750.0,465.0C762.6,473.4 769.6,486.7 771.0,493.0C772.4,499.3 770.3,513.3 764.0,528.0C757.7,542.7 719.2,616.2 708.0,640.0C696.8,663.8 659.7,752.7 652.0,766.0C644.3,779.3 639.4,775.1 631.0,773.0C622.6,770.9 577.1,749.2 568.0,745.0C558.9,740.8 543.9,741.5 540.0,731.0C536.1,720.5 528.1,658.9 529.5,640.0C530.9,621.1 546.0,563.0 554.0,542.0C562.0,521.0 600.9,443.3 610.0,430.0Z"/>
<path class="t" d="M631.0,444.0C623.5,457.1 584.8,515.9 575.0,542.0C565.2,568.1 558.4,613.4 557.5,640.0C556.6,666.6 566.6,728.0 568.0,741.5"/>
<path class="t" d="M568.0,745.0L694.0,661.0L708.0,640.0"/>
<path class="t" d="M638.0,451.0L743.0,503.5"/>
<path d="M800.4,549.0L667.4,745.0" stroke-width="2" stroke-dasharray="1.2 1"/>
<path class="t" d="M442.0,668.0L540.0,752.0"/>
<path class="t" d="M322.0,450.0L370.0,546.0L402.0,450.0"/>
<ellipse class="w" cx="442.0" cy="610.0" rx="44" ry="56" transform="rotate(20 442.0 610.0)"/>
<ellipse class="t" cx="426.0" cy="622.0" rx="30" ry="42" transform="rotate(20 426.0 622.0)"/>
<path class="w" d="M394.0,614.0L306.0,650.0L290.0,670.0L302.0,690.0L322.0,691.6L410.0,662.0Z"/>
<path d="M334.0,639.6L344.4,683.6M358.0,630.0L368.4,675.6M382.0,619.6L392.4,667.6"/>
<path class="t" d="M450.0,670.0L546.0,746.0"/>
<path class="w" stroke="none" d="M1030.0,365.0C1012.0,370.0 949.0,395.5 930.0,410.0C911.0,424.5 860.0,479.0 840.0,510.0C820.0,541.0 748.0,686.0 730.0,720.0C712.0,754.0 670.5,830.0 660.0,850.0C649.5,870.0 627.5,906.0 625.0,920.0C622.5,934.0 629.0,980.8 635.0,990.0C641.0,999.2 663.5,1004.0 685.0,1012.0C706.5,1020.0 818.5,1060.7 850.0,1070.0C881.5,1079.3 974.0,1097.5 1000.0,1105.0C1026.0,1112.5 1065.0,1171.5 1110.0,1145.0C1155.0,1118.5 1419.0,903.5 1450.0,840.0C1481.0,776.5 1430.0,548.5 1420.0,510.0C1410.0,471.5 1367.0,466.0 1350.0,455.0C1333.0,444.0 1268.0,408.0 1250.0,400.0C1232.0,392.0 1184.0,379.0 1170.0,375.0C1156.0,371.0 1124.0,361.0 1110.0,360.0C1096.0,359.0 1048.0,360.0 1030.0,365.0Z"/>
<path d="M1030.0,365.0C1016.7,371.0 955.3,390.7 930.0,410.0C904.7,429.3 866.7,468.7 840.0,510.0C813.3,551.3 754.0,674.7 730.0,720.0C706.0,765.3 674.0,823.3 660.0,850.0C646.0,876.7 628.3,901.3 625.0,920.0C621.7,938.7 627.0,977.7 635.0,990.0C643.0,1002.3 656.3,1001.3 685.0,1012.0C713.7,1022.7 808.0,1057.6 850.0,1070.0C892.0,1082.4 970.7,1096.3 1000.0,1105.0C1029.3,1113.7 1060.7,1131.0 1070.0,1135.0"/>
<path d="M1030.0,365.0C1040.7,364.3 1091.3,358.7 1110.0,360.0C1128.7,361.3 1151.3,369.7 1170.0,375.0C1188.7,380.3 1226.0,389.3 1250.0,400.0C1274.0,410.7 1327.3,440.3 1350.0,455.0C1372.7,469.7 1410.7,502.7 1420.0,510.0"/>
<path d="M1080.0,375.0C1066.0,381.7 1001.0,404.3 975.0,425.0C949.0,445.7 911.0,488.0 885.0,530.0C859.0,572.0 804.7,694.7 780.0,740.0C755.3,785.3 714.7,843.3 700.0,870.0C685.3,896.7 673.3,922.7 670.0,940.0C666.7,957.3 674.3,992.0 675.0,1000.0"/>
<path d="M1150.0,390.0C1134.0,396.7 1058.0,418.7 1030.0,440.0C1002.0,461.3 964.0,512.7 940.0,550.0C916.0,587.3 864.0,685.3 850.0,720.0C836.0,754.7 837.0,798.0 835.0,810.0"/>
<path d="M850.0,840.0C846.7,848.0 826.3,878.7 825.0,900.0C823.7,921.3 832.0,979.3 840.0,1000.0C848.0,1020.7 879.0,1047.7 885.0,1055.0"/>
<path d="M1190.0,400.0C1174.0,408.0 1098.0,437.3 1070.0,460.0C1042.0,482.7 1004.0,532.7 980.0,570.0C956.0,607.3 906.0,704.0 890.0,740.0C874.0,776.0 865.3,810.7 860.0,840.0C854.7,869.3 846.0,930.7 850.0,960.0C854.0,989.3 876.7,1042.9 890.0,1060.0C903.3,1077.1 942.0,1084.3 950.0,1088.0"/>
<path d="M682.0,858.0C676.7,863.3 649.5,886.3 642.0,898.0C634.5,909.7 626.0,933.2 626.0,946.0C626.0,958.8 633.5,983.3 642.0,994.0C650.5,1004.7 683.6,1021.7 690.0,1026.0"/>
<ellipse cx="730.0" cy="939.6" rx="40" ry="66" transform="rotate(22 730.0 939.6)" class="k"/>
<ellipse cx="790.0" cy="955.6" rx="34" ry="54" transform="rotate(22 790.0 955.6)" class="w"/>
<ellipse cx="795.6" cy="955.6" rx="14" ry="24" transform="rotate(22 795.6 955.6)" class="t"/>
<path class="t" d="M1170,370L1290,430L1420,520L1440,570"/>
<path class="t" d="M1180,385L1300,460L1400,540"/>
<path class="k" d="M1330,500L1390,490L1420,520L1370,545Z"/>
<path class="t" d="M1390.0,530.0C1392.7,526.0 1423.3,540.7 1430.0,550.0C1436.7,559.3 1442.7,596.0 1440.0,600.0C1437.3,604.0 1416.7,589.3 1410.0,580.0C1403.3,570.7 1387.3,534.0 1390.0,530.0Z"/>
<ellipse class="w" cx="1215" cy="840" rx="215" ry="326" transform="rotate(21 1215 840)"/>
<ellipse class="w" cx="1220" cy="842" rx="165" ry="255" transform="rotate(21 1220 842)"/>
<path class="t" d="M1310.0,620.0C1315.3,633.3 1347.3,689.3 1350.0,720.0C1352.7,750.7 1343.3,815.3 1330.0,850.0C1316.7,884.7 1274.0,952.0 1250.0,980.0C1226.0,1008.0 1174.0,1050.7 1150.0,1060.0C1126.0,1069.3 1080.7,1051.3 1070.0,1050.0"/>
<path class="t" d="M1270.0,620.0C1274.7,633.3 1303.0,690.7 1305.0,720.0C1307.0,749.3 1297.7,808.0 1285.0,840.0C1272.3,872.0 1230.7,936.0 1210.0,960.0C1189.3,984.0 1150.7,1014.7 1130.0,1020.0C1109.3,1025.3 1065.0,1002.7 1055.0,1000.0"/>
<path class="t" d="M1200.0,640.0C1205.3,650.7 1237.3,694.7 1240.0,720.0C1242.7,745.3 1232.0,803.3 1220.0,830.0C1208.0,856.7 1168.7,901.3 1150.0,920.0C1131.3,938.7 1094.0,966.0 1080.0,970.0C1066.0,974.0 1049.7,952.7 1045.0,950.0"/>
<path class="t" d="M1160.0,670.0C1164.0,679.3 1188.7,718.7 1190.0,740.0C1191.3,761.3 1180.7,808.7 1170.0,830.0C1159.3,851.3 1126.7,888.0 1110.0,900.0C1093.3,912.0 1053.7,917.3 1045.0,920.0"/>
</g>
<!-- 60_carb.svg -->
<g id="carb" class="b" stroke="#1c1c1c" stroke-width="1.25">
<path class="w" stroke-width="1" stroke="#2a2a2a" d="M287.2,592.8C285.4,593.9 275.6,598.7 273.0,601.0C270.4,603.3 268.6,607.4 267.8,610.0C266.9,612.6 266.1,616.5 266.2,620.5C266.4,624.5 268.0,635.0 268.5,640.0C269.0,645.0 270.2,653.2 270.0,658.0C269.8,662.8 269.0,670.8 267.0,676.0C265.0,681.2 259.3,690.8 255.0,697.0C250.7,703.2 237.4,719.1 234.8,722.5L242.2,724.8C245.2,721.2 259.7,704.8 264.0,698.5C268.3,692.2 272.8,682.9 274.5,677.5C276.2,672.1 276.6,663.0 276.8,658.0C276.9,653.0 275.7,644.8 275.2,640.0C274.8,635.2 273.4,625.4 273.3,622.0C273.2,618.6 273.7,616.6 274.5,614.5C275.3,612.4 276.8,608.4 279.0,606.2C281.2,604.1 289.4,599.8 291.0,598.8Z"/>
<ellipse class="w" cx="238.5" cy="723.7" rx="4.0" ry="2.6" transform="rotate(25 238.5 723.7)"/>
<path class="t" d="M289.2,591.7L292.8,597.7"/>
<path class="w" d="M289.5,560.2L289.5,589.6L291.9,596.6L295.5,599.5L309.0,607.8L321.0,612.2L326.6,609.9L328.7,607.8L337.8,616.9L342.0,615.5L342.0,610.6L346.2,608.5L350.4,607.8L372.8,595.2L372.8,578.4L350.4,578.4L325.2,578.4Z"/>
<path d="M324.5,582.6L324.5,608.5"/>
<path d="M328.7,584.0L328.7,607.8"/>
<path class="t" d="M332.9,586.1L332.9,612.0"/>
<path d="M337.8,588.2L337.8,616.9"/>
<path d="M342.0,586.1L342.0,612.0"/>
<path class="t" d="M346.2,584.0L346.2,608.5"/>
<path d="M350.4,581.2L350.4,607.8"/>
<path d="M324.5,582.6L337.8,589.6L350.4,581.9"/>
<path d="M289.5,561.6L324.5,582.6"/>
<path class="w" stroke="none" d="M281.1,526.6L281.1,553.9L289.5,561.6L325.2,582.6L337.8,589.6L351.8,582.6L372.8,579.8L372.8,542.0L343.4,508.4L307.0,508.4L293.0,522.4Z"/>
<path d="M280.4,538.8L280.4,554.0L289.2,562.0L289.2,570.0"/>
<path d="M284.0,538.0C284.1,538.5 284.5,541.2 285.2,542.0C285.9,542.8 288.7,545.0 290.0,545.2C291.3,545.4 295.7,543.9 296.4,543.8"/>
<path class="t" d="M287.2,552.4L293.2,545.2"/>
<path d="M284.4,531.6L286.8,528.6L289.6,527.4L307.6,538.0"/>
<path d="M296.4,524.6L314.4,533.2"/>
<path class="t" d="M300.8,521.4L314.8,528.6"/>
<path d="M284.8,534.8L298.8,545.2L303.6,542.8L303.6,537.2"/>
<path class="t" d="M280.4,538.8L284.4,536.8L284.8,532.0"/>
<path class="h" d="M317.2,542.0L339.6,555.6"/>
<path class="t" d="M318.0,543.8L338.8,556.6"/>
<path class="t" d="M326.0,534.8L339.2,552.0"/>
<path class="t" d="M321.2,538.8L329.2,537.2"/>
<path class="t" d="M319.6,534.8L327.6,538.8"/>
<path class="w" stroke="none" d="M330.1,566.9L341.3,561.3L345.5,570.0L330.8,577.8Z"/>
<path d="M330.1,566.9L341.3,561.3"/>
<path d="M330.8,577.8L344.1,570.4"/>
<ellipse class="w" cx="328.0" cy="572.4" rx="4.2" ry="5.8" transform="rotate(-15 328.0 572.4)"/>
<ellipse class="t" cx="328.3" cy="572.4" rx="2.0" ry="3.0" transform="rotate(-15 328.3 572.4)"/>
<path class="w" stroke="none" d="M280.8,491.6L280.8,523.6L283.6,526.4L289.2,527.6L295.6,525.2L299.0,521.6L299.0,502.0L303.6,498.0L303.6,491.6Z"/>
<path d="M280.8,493.2L280.8,523.6"/>
<path d="M299.0,502.0L299.0,521.6"/>
<path d="M280.8,523.6C281.1,523.9 282.6,525.9 283.6,526.4C284.6,526.9 287.8,527.7 289.2,527.6C290.6,527.5 294.5,525.9 295.6,525.2C296.7,524.5 298.6,522.0 299.0,521.6"/>
<path d="M280.2,497.2C279.8,498.6 277.3,507.0 277.0,509.2C276.8,511.4 277.6,514.8 278.0,516.4C278.4,518.0 280.5,522.1 280.8,522.8"/>
<path d="M299.0,502.0L311.6,495.0"/>
<path class="t" d="M311.6,499.6C310.9,500.5 306.4,505.2 305.2,507.6C304.0,510.0 301.7,518.3 301.2,519.8"/>
<path d="M300.9,492.6L301.6,501.0L298.8,502.8"/>
<path d="M281.3,492.6C281.6,492.9 283.2,494.9 284.1,495.4C285.0,495.9 287.6,496.8 289.0,496.8C290.4,496.8 294.6,495.9 296.0,495.4C297.4,494.9 300.3,492.9 300.9,492.6"/>
<path class="t" d="M281.3,492.6C281.4,492.3 281.8,490.5 282.0,489.8C282.2,489.1 283.2,487.3 283.4,487.0"/>
<path class="t" d="M300.9,492.6C300.7,492.3 299.8,490.4 299.5,489.8C299.2,489.2 298.3,487.9 298.1,487.7"/>
<path d="M283.4,487.0C283.7,487.3 285.5,489.4 286.2,489.8C286.9,490.2 288.7,490.5 289.7,490.5C290.7,490.5 293.6,490.1 294.6,489.8C295.6,489.5 297.7,487.9 298.1,487.7"/>
<path class="t" d="M283.4,487.0C283.5,486.8 284.3,485.6 284.4,485.2C284.6,484.9 284.8,484.3 284.8,484.2"/>
<path class="t" d="M298.1,487.7C298.0,487.5 297.6,486.1 297.4,485.6C297.2,485.1 296.8,483.7 296.7,483.5"/>
<path d="M284.8,484.2C285.1,484.4 286.9,485.7 287.6,485.9C288.3,486.2 289.7,486.3 290.4,486.3C291.1,486.3 293.2,485.9 293.9,485.6C294.6,485.3 296.4,483.7 296.7,483.5"/>
<path d="M286.1,475.1L285.9,483.1"/>
<path d="M295.4,473.0L296.0,482.4"/>
<path class="w" stroke="none" d="M278.5,464.2L279.6,471.0L285.5,474.0L289.0,475.4L296.0,472.9L300.9,470.3L303.0,466.8L303.0,461.1L296.0,454.7L285.9,454.4L280.6,459.0Z"/>
<path class="w" stroke-width="1.3" d="M280.6,459.0C280.6,458.7 281.3,456.5 281.6,456.2C282.0,455.9 285.4,454.5 285.9,454.4C286.3,454.4 288.7,455.5 289.0,455.5C289.3,455.5 291.0,453.8 291.4,453.8C291.9,453.7 295.6,454.5 296.0,454.7C296.4,454.9 297.9,457.1 298.2,457.2C298.6,457.4 301.2,457.7 301.5,457.9C301.7,458.2 303.0,460.8 303.0,461.1C303.0,461.4 302.2,463.4 302.2,463.8C302.2,464.1 303.1,466.4 303.0,466.6C302.9,466.7 300.3,466.8 299.9,466.8C299.4,466.9 296.6,466.7 296.0,466.8C295.4,467.0 290.2,468.9 289.7,468.9C289.2,469.0 287.3,468.1 287.0,468.1C286.7,468.1 285.3,469.0 284.8,468.9C284.3,468.9 279.7,467.1 279.3,466.8C279.0,466.6 278.4,464.6 278.5,464.2C278.6,463.9 280.9,462.1 281.0,461.8C281.1,461.5 280.6,459.3 280.6,459.0Z"/>
<path stroke-width="1.3" d="M279.3,466.8L279.6,471.0L285.5,474.0L289.0,475.4L296.0,472.9L300.9,470.3L303.0,466.8"/>
<path stroke-width="1.2" d="M284.8,468.9L285.5,474.0"/>
<path stroke-width="1.2" d="M289.7,468.9L289.0,475.4"/>
<path d="M296.0,466.8L296.0,472.9"/>
<path class="t" d="M299.9,466.8L299.9,470.8"/>
<path fill="#666" d="M287.6,461.4L290.8,459.4L294.9,461.0L291.4,463.2Z"/>
<path class="t" d="M296.0,477.9L307.2,475.8"/>
<path class="t" d="M296.7,481.4L304.4,480.0"/>
<path class="t" d="M304.4,480.0C304.4,480.5 304.1,483.2 304.4,484.2C304.7,485.2 306.3,487.7 307.2,488.4C308.1,489.1 311.5,490.3 312.1,490.5"/>
<path class="t" d="M312.1,490.5C312.7,490.4 316.1,490.2 317.0,489.8C317.9,489.4 319.5,487.3 319.8,487.0"/>
<path class="t" d="M301.6,500.3L311.4,495.4"/>
<path class="t" d="M303.0,515.0L305.8,506.6L311.4,498.9"/>
<path class="w" stroke="none" d="M312.6,484.4L312.6,513.1L318.9,518.0L336.4,520.8L338.5,518.0L357.8,506.8L357.8,472.5L336.4,481.6Z"/>
<path d="M312.6,490.0L312.6,513.1L318.9,518.0"/>
<path d="M336.4,483.0L336.4,520.5"/>
<path d="M338.5,483.0L338.5,518.0"/>
<path d="M357.8,472.5L357.8,494.2"/>
<path d="M327.2,485.1L328.8,485.1L328.8,511.0L327.2,511.0Z" fill="#bbb" stroke="none"/>
<path d="M330.2,485.1L332.9,485.1L332.9,492.8L330.2,492.8Z" fill="#999" stroke="none"/>
<path d="M330.2,492.8L332.9,492.8L332.9,510.3L330.2,510.3Z" fill="#ccc" stroke="none"/>
<path d="M326.9,485.1L326.9,511.4"/>
<path d="M329.8,485.1L329.8,509.9"/>
<path d="M333.0,485.1L333.0,510.3"/>
<path class="t" d="M318.9,488.6L326.9,493.1"/>
<path d="M309.1,482.3C309.2,482.8 309.3,485.6 309.8,486.5C310.3,487.4 312.4,489.8 313.3,490.0C314.2,490.2 316.8,489.2 317.5,488.6C318.2,488.0 319.4,485.5 319.6,485.1"/>
<path class="t" d="M338.5,518.0L349.0,511.0"/>
<path class="w" stroke="none" d="M309.1,464.8C309.3,463.7 310.0,457.4 310.5,456.4C311.0,455.4 315.2,450.1 316.1,449.4C317.0,448.7 323.1,446.3 324.5,445.9C325.9,445.5 336.2,444.0 337.8,443.8C339.4,443.6 347.5,443.3 348.3,443.1C349.1,442.9 349.9,441.2 350.4,441.0C350.9,440.8 355.3,439.2 356.0,439.6C356.7,440.0 359.8,446.0 360.2,447.3C360.6,448.6 362.1,458.2 362.3,459.2C362.5,460.2 363.3,461.4 363.4,462.0C363.4,462.6 363.4,466.9 363.0,467.6C362.6,468.3 359.9,470.7 358.1,471.8C356.3,472.9 339.7,483.7 336.4,484.4C333.1,485.1 311.0,482.7 309.1,481.9C307.2,481.2 307.7,474.3 307.7,473.2C307.7,472.1 308.9,465.9 309.1,464.8Z"/>
<path d="M308.4,472.5C308.5,471.6 308.9,466.7 309.1,464.8C309.3,462.9 309.7,458.2 310.5,456.4C311.3,454.6 314.5,450.6 316.1,449.4C317.7,448.2 323.5,446.6 324.5,446.2"/>
<path d="M338.1,443.8L348.3,443.2"/>
<path class="t" d="M339.9,448.0L348.3,443.4"/>
<path d="M360.2,447.3L362.3,459.2L363.4,462.0"/>
<path class="t" d="M351.8,451.5L355.3,449.4L360.2,448.0"/>
<path class="t" d="M351.8,451.5L359.5,457.1L361.6,459.6"/>
<path d="M361.6,459.8L335.0,475.3"/>
<path d="M335.0,475.6L332.9,473.9L324.5,467.9L318.9,471.8L313.3,474.6"/>
<path class="t" d="M323.1,455.7L321.0,459.9L316.8,462.8"/>
<path d="M313.3,474.6L334.6,476.4"/>
<path class="t" d="M313.6,476.7L334.6,478.4"/>
<path class="h" d="M308.4,477.4L313.3,479.1L334.6,480.9"/>
<path class="t" d="M308.4,479.5L313.3,481.2L334.6,483.0"/>
<path d="M309.1,481.9L333.6,484.8"/>
<path d="M308.4,471.8L308.4,481.6"/>
<path d="M313.3,474.6L313.3,481.6"/>
<path d="M335.0,475.3L335.0,484.4"/>
<path d="M335.0,476.7L363.0,462.4"/>
<path class="t" d="M335.7,478.8L363.0,464.4"/>
<path d="M335.7,481.2L362.6,466.9"/>
<path class="t" d="M336.4,483.4L358.1,471.8"/>
<path d="M363.4,462.0L363.0,467.6"/>
<path d="M346.6,476.0L347.6,483.4L350.4,484.1L354.2,481.2L354.2,472.9"/>
<ellipse class="w" cx="314.0" cy="466.2" rx="3.6" ry="2.2" transform="rotate(-5 314.0 466.2)"/>
<ellipse cx="314.0" cy="468.3" rx="4.4" ry="2.8" transform="rotate(-5 314.0 468.3)"/>
<path class="w" stroke="none" d="M350.1,442.4L350.3,446.9L354.6,448.7L359.5,446.9L359.1,442.4Z"/>
<ellipse class="w" cx="354.6" cy="446.9" rx="4.8" ry="2.6" transform="rotate(-5 354.6 446.9)"/>
<ellipse class="w" cx="354.6" cy="444.9" rx="4.4" ry="2.4" transform="rotate(-5 354.6 444.9)"/>
<ellipse class="w" cx="354.6" cy="442.3" rx="4.4" ry="2.4" transform="rotate(-5 354.6 442.3)"/>
<path class="t" d="M350.2,442.4L350.2,444.6"/>
<path class="t" d="M359.0,442.4L359.0,444.6"/>
<path class="w" d="M323.8,450.1L324.1,455.0L330.1,458.1L336.4,455.8L338.9,452.9L338.5,448.0L331.5,446.6Z"/>
<path d="M323.8,450.1L329.4,452.6L336.4,450.8L338.6,448.0"/>
<path class="t" d="M329.4,452.6L330.1,458.1"/>
<path class="t" d="M336.4,450.8L336.4,455.8"/>
<path class="w" stroke="none" d="M326.7,429.4L325.9,449.4L331.5,451.5L337.1,448.7L336.4,429.4Z"/>
<path d="M326.7,429.4L325.9,449.1"/>
<path d="M336.4,429.4L337.1,448.0"/>
<path class="t" d="M328.8,431.9L328.5,450.1"/>
<path class="t" d="M334.3,431.9L334.6,449.8"/>
<path class="t" d="M330.8,437.5L331.9,433.6L333.6,437.5"/>
<ellipse class="w" cx="331.6" cy="429.0" rx="4.9" ry="2.6" transform="rotate(-3 331.6 429.0)"/>
<path class="t" d="M326.0,448.4C326.4,448.6 327.8,450.2 328.7,450.4C329.6,450.7 332.6,451.1 333.6,450.8C334.6,450.5 336.7,448.3 337.1,448.0"/>
<path class="w" stroke="none" d="M393.0,515.3C391.3,514.4 383.5,509.3 380.4,508.6C377.3,507.8 372.7,508.4 369.6,509.9C366.5,511.4 360.1,516.3 357.0,519.8C353.9,523.3 348.4,531.2 346.2,536.0C344.0,540.8 341.3,551.5 340.8,555.8C340.3,560.1 341.4,565.6 342.6,568.4C343.8,571.2 347.9,575.0 349.8,576.5C351.7,578.0 355.2,579.0 357.0,579.6C358.8,580.2 362.5,580.8 363.3,581.0Z"/>
<path class="w" stroke="none" d="M354.6,498.4L360.2,494.2L367.2,496.3L371.4,508.2L363.0,515.2L354.6,509.6Z"/>
<path d="M357.4,496.3C358.1,496.1 361.7,494.0 363.0,494.2C364.3,494.4 367.6,496.8 368.6,498.4C369.6,500.0 371.1,507.1 371.4,508.2"/>
<ellipse class="w" cx="359.1" cy="502.6" rx="5.0" ry="4.0" transform="rotate(-20 359.1 502.6)"/>
<ellipse class="t" cx="359.1" cy="502.6" rx="2.6" ry="2.0" transform="rotate(-20 359.1 502.6)"/>
<path class="t" d="M354.6,504.0L354.6,511.0"/>
<path class="t" d="M363.7,504.0L363.7,509.6"/>
<ellipse class="w" cx="353.9" cy="514.1" rx="3.0" ry="3.6" transform="rotate(20 353.9 514.1)"/>
<path d="M393.0,515.3C391.3,514.4 383.5,509.3 380.4,508.6C377.3,507.8 372.7,508.4 369.6,509.9C366.5,511.4 360.1,516.3 357.0,519.8C353.9,523.3 348.4,531.2 346.2,536.0C344.0,540.8 341.3,551.5 340.8,555.8C340.3,560.1 341.4,565.6 342.6,568.4C343.8,571.2 347.9,575.0 349.8,576.5C351.7,578.0 355.2,579.0 357.0,579.6C358.8,580.2 362.5,580.8 363.3,581.0"/>
<ellipse class="w" cx="374.5" cy="547.2" rx="21.6" ry="36.5" transform="rotate(27 374.5 547.2)"/>
<ellipse cx="375.3" cy="547.5" rx="20.2" ry="35.0" transform="rotate(27 375.3 547.5)"/>
<path class="t" d="M365.3,528.6C364.7,529.6 361.3,534.8 360.1,536.9C359.0,539.0 356.2,545.6 355.6,546.8"/>
<path class="t" d="M365.3,528.6C365.2,529.5 365.6,534.0 364.6,536.0C363.7,538.0 357.9,544.9 357.0,546.1"/>
<path class="t" d="M362.9,563.5C363.4,564.3 366.1,569.4 367.4,570.6C368.6,571.9 372.5,573.6 373.2,574.0"/>
<path class="t" d="M362.9,563.5C363.6,563.9 368.3,566.3 369.6,567.5C370.9,568.7 373.6,572.7 374.1,573.4"/>
<path class="t" d="M371.4,564.8C371.9,565.3 375.0,568.0 375.9,568.9C376.8,569.7 378.7,571.6 379.1,572.0"/>
<path class="t" d="M371.4,564.8C371.8,565.5 373.9,570.2 374.6,571.1C375.2,572.0 376.5,572.7 376.8,572.9"/>
<path class="w" d="M321.2,519.6L330.0,510.0L333.2,509.8L336.0,514.0L330.8,526.0Z"/>
<path d="M326.2,522.6L311.8,542.2" stroke="#333" stroke-width="8.4" stroke-dasharray="1 .8" stroke-linecap="butt"/>
<path class="t" d="M321.2,519.6L307.6,538.0"/>
<path class="t" d="M330.8,526.0L316.0,546.0"/>
<path class="h" d="M306.4,537.2L314.8,547.0"/>
<path class="t" d="M308.4,536.4L316.4,545.2"/>
<path class="w" stroke-width="1.2" d="M297.2,549.2L305.2,542.0L312.4,547.6L311.6,551.2L305.2,556.4L302.0,555.0Z"/>
<path class="t" d="M302.0,555.0L305.2,550.8L312.4,547.6"/>
<path class="t" d="M305.2,550.8L305.2,556.4"/>
<path class="h" d="M298.8,550.8L302.8,554.0"/>
<path class="h" d="M300.8,552.0L303.6,553.2"/>
</g>
</svg>
</body></html>
